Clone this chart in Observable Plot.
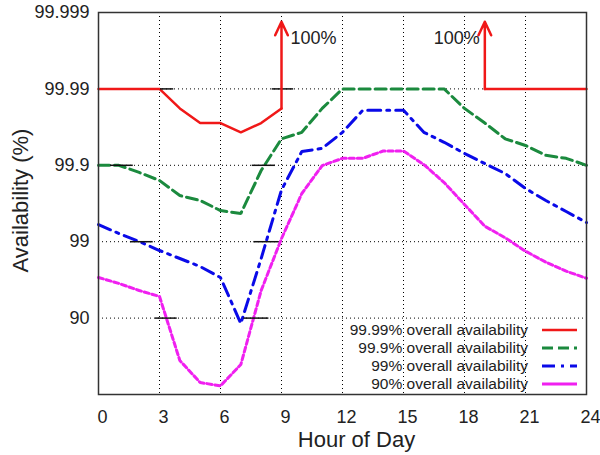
<!DOCTYPE html>
<html>
<head>
<meta charset="utf-8">
<script src="https://cdn.jsdelivr.net/npm/d3@7"></script>
<script src="https://cdn.jsdelivr.net/npm/@observablehq/plot@0.6"></script>
<style>
  html, body { margin: 0; padding: 0; background: #fff; }
  #wrap { position: relative; width: 600px; height: 455px; font-family: "Liberation Sans", Arial, sans-serif; }
  #wrap svg.plot { position: absolute; left: 0; top: 0; }
  #legend { position: absolute; right: 23px; top: 321px; font-size: 15.5px; color: #222; line-height: 18px; }
  #legend .row { display: flex; align-items: center; justify-content: flex-end; height: 18px; }
  #legend .row svg { margin-left: 14px; display: block; }
</style>
</head>
<body>
<div id="wrap"></div>
<script>
// ---- data (availability in %) ----
const hours = [0, 1, 2, 3, 4, 5, 6, 7, 8, 9, 10, 11, 12, 13, 14, 15, 16, 17, 18, 19, 20, 21, 22, 23, 24];

// 99.99% overall availability (null = 100%, off scale)
const red = [99.99, 99.99, 99.99, 99.99, 99.982, 99.972, 99.972, 99.963, 99.972, 99.982,
             null, null, null, null, null, null, null, null, null,
             99.99, 99.99, 99.99, 99.99, 99.99, 99.99];
// 99.9% overall availability
const green = [99.9, 99.9, 99.876, 99.842, 99.751, 99.711, 99.609, 99.572, 99.883, 99.955,
               99.963, 99.982, 99.99, 99.99, 99.99, 99.99, 99.99, 99.99, 99.982, 99.972,
               99.955, 99.945, 99.926, 99.919, 99.9];
// 99% overall availability
const blue = [99.404, 99.219, 99.006, 98.696, 98.34, 97.888, 97.058, 88.22, 98.34, 99.79,
              99.934, 99.94, 99.963, 99.981, 99.981, 99.981, 99.963, 99.95, 99.93, 99.905,
              99.872, 99.799, 99.711, 99.597, 99.439];
// 90% overall availability
const magenta = [97.06, 96.48, 95.65, 94.79, 64.11, 30.3, 23.0, 59.5, 95.65, 99.09,
                 99.766, 99.899, 99.919, 99.919, 99.935, 99.935, 99.902, 99.832, 99.674, 99.373,
                 99.111, 98.669, 98.146, 97.568, 96.99];

// hours where the 99.99% curve jumps to 100%
const jumpHours = [9, 19];
const jumpLabel = "100%";

// short black markers on the grid lines (level, from hour, to hour)
const markerLevels = [99.99, 99.99, 99.9, 99.9, 99, 99, 90, 90];
const markerFrom   = [3.05, 8.54, 0.59, 7.56, 1.57, 7.64, 2.8, 7.15];
const markerTo     = [3.7, 9.6, 1.71, 8.7, 2.69, 8.87, 3.87, 8.38];

const seriesNames = ["99.99% overall availability", "99.9% overall availability",
                     "99% overall availability", "90% overall availability"];
const seriesValues = [red, green, blue, magenta];

const xTicks = [0, 3, 6, 9, 12, 15, 18, 21, 24];
const yTicks = [90, 99, 99.9, 99.99, 99.999];
const yTickLabels = ["90", "99", "99.9", "99.99", "99.999"];

// ---- styles ----
const seriesColors = ["#f01818", "#1b8a3e", "#0a0ae8", "#f020f0"];
const seriesDash = [null, "11,5", "13,6,3,6", "5,3"];
const legendDash = [null, "11,5", "13,6,3,6", null];
const seriesWidth = [2.5, 3, 3, 3];

// number of nines: 90 -> 1, 99 -> 2, ...
const nines = a => (a == null ? NaN : -Math.log10(1 - a / 100));

const lineMarks = seriesValues.map((vals, s) =>
  Plot.line(hours.map((h, i) => ({hour: h, value: vals[i]})), {
    x: "hour",
    y: d => nines(d.value),
    stroke: seriesColors[s],
    strokeWidth: seriesWidth[s],
    strokeDasharray: seriesDash[s],
    strokeLinejoin: "miter"
  })
);

const jumps = jumpHours.map(h => ({hour: h, from: red[hours.indexOf(h)]}));
const markers = markerLevels.map((l, i) => ({level: l, from: markerFrom[i], to: markerTo[i]}));

const jumpTexts = jumps.map((j, i) =>
  Plot.text([j], {
    x: "hour", y: () => 4.66, text: () => jumpLabel,
    textAnchor: i === 0 ? "start" : "end",
    dx: i === 0 ? 9 : -5,
    fontSize: 18, fill: "#222"
  })
);

const chart = Plot.plot({
  width: 600,
  height: 455,
  marginLeft: 98,
  marginRight: 14,
  marginTop: 12,
  marginBottom: 61,
  style: {fontFamily: "'Liberation Sans', Arial, sans-serif", fontSize: "18px", color: "#222", background: "transparent"},
  x: {domain: [0, 24]},
  y: {domain: [0, 5]},
  marks: [
    Plot.gridX(xTicks.slice(1, -1), {stroke: "#000", strokeOpacity: 1, strokeWidth: 1, strokeDasharray: "1,3"}),
    Plot.gridY(yTicks.slice(0, -1).map(nines), {stroke: "#000", strokeOpacity: 1, strokeWidth: 1, strokeDasharray: "1,3"}),
    ...lineMarks,
    Plot.ruleY(markers, {y: d => nines(d.level), x1: "from", x2: "to", stroke: "#111", strokeWidth: 1.5}),
    Plot.arrow(jumps, {
      x1: "hour", x2: "hour",
      y1: d => nines(d.from), y2: () => 4.88,
      stroke: seriesColors[0], strokeWidth: 2.5, headLength: 9, headAngle: 50
    }),
    ...jumpTexts,
    Plot.frame({stroke: "#333", strokeWidth: 1.5}),
    Plot.axisX(xTicks, {tickSize: 0, tickPadding: 16, dx: 4, label: null, fontSize: 18}),
    Plot.axisY(yTicks.map(nines), {
      tickSize: 0, tickPadding: 9, label: null, fontSize: 18,
      tickFormat: d => yTickLabels[Math.round(d) - 1]
    }),
    Plot.text(["Hour of Day"], {frameAnchor: "bottom", lineAnchor: "middle", textAnchor: "middle", dy: 45, dx: 14, fontSize: 22, fill: "#222"}),
    Plot.text(["Availability (%)"], {frameAnchor: "left", lineAnchor: "middle", textAnchor: "middle", rotate: -90, dx: -78, dy: -3, fontSize: 22, fill: "#222"})
  ]
});
chart.classList.add("plot");

const wrap = document.getElementById("wrap");
wrap.appendChild(chart);

// legend (inside the plot, bottom right)
const legend = d3.select(wrap).append("div").attr("id", "legend");
seriesNames.forEach((name, s) => {
  const row = legend.append("div").attr("class", "row");
  row.append("span").text(name);
  const sv = row.append("svg").attr("width", 35).attr("height", 10);
  sv.append("line").attr("x1", 0).attr("x2", 35).attr("y1", 5).attr("y2", 5)
    .attr("stroke", seriesColors[s]).attr("stroke-width", seriesWidth[s])
    .attr("stroke-dasharray", legendDash[s]);
});
</script>
</body>
</html>
